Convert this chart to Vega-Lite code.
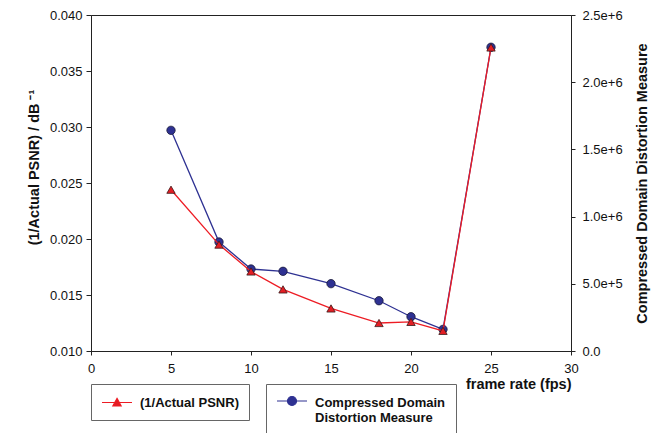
{
  "$schema": "https://vega.github.io/schema/vega-lite/v6.json",
  "width": 480,
  "height": 336,
  "autosize": {"type": "none"},
  "padding": {"left": 91, "top": 15, "right": 91, "bottom": 82},
  "background": "white",
  "config": {
    "font": "Liberation Sans",
    "view": {"stroke": "#222", "strokeWidth": 1},
    "axis": {
      "grid": false,
      "domainColor": "#222",
      "tickColor": "#222",
      "labelColor": "#111",
      "labelFontSize": 13,
      "labelFont": "Liberation Sans",
      "titleFont": "Liberation Sans",
      "titleFontSize": 14.5,
      "titleFontWeight": "bold",
      "titleColor": "#111"
    },
    "legend": {
      "labelFont": "Liberation Sans",
      "labelFontSize": 13,
      "labelFontWeight": "bold",
      "labelColor": "#111",
      "labelLimit": 400,
      "strokeColor": "#666",
      "fillColor": "white",
      "padding": 10,
      "symbolSize": 225,
      "symbolStrokeWidth": 1.2,
      "labelOffset": 22
    }
  },
  "data": {
    "values": [
      {"fps": 5, "psnr": 0.0244, "cddm": 1642000},
      {"fps": 8, "psnr": 0.0195, "cddm": 811000},
      {"fps": 10, "psnr": 0.0171, "cddm": 610000},
      {"fps": 12, "psnr": 0.0155, "cddm": 593000},
      {"fps": 15, "psnr": 0.0138, "cddm": 501000},
      {"fps": 18, "psnr": 0.0125, "cddm": 374000},
      {"fps": 20, "psnr": 0.0126, "cddm": 255000},
      {"fps": 22, "psnr": 0.0118, "cddm": 161000},
      {"fps": 25, "psnr": 0.0371, "cddm": 2260000}
    ]
  },
  "layer": [
    {
      "encoding": {
        "x": {
          "field": "fps", "type": "quantitative",
          "scale": {"domain": [0, 30], "nice": false},
          "axis": {"values": [0, 5, 10, 15, 20, 25, 30], "tickSize": 4, "labelPadding": 7, "labelFlush": false, "labelOverlap": false, "title": "frame rate (fps)", "titleAnchor": "end", "titlePadding": 2}
        },
        "y": {
          "field": "cddm", "type": "quantitative",
          "scale": {"domain": [0, 2500000], "nice": false},
          "axis": {"orient": "right", "values": [0, 500000, 1000000, 1500000, 2000000, 2500000], "labelExpr": "datum.value == 0 ? '0.0' : format(datum.value, '.1e')", "tickSize": 4, "labelPadding": 7, "title": "Compressed Domain Distortion Measure", "titleAngle": 270, "titleBaseline": "top", "titlePadding": 13}
        }
      },
      "layer": [
        {
          "mark": {"type": "line", "strokeWidth": 1.3},
          "encoding": {
            "color": {
              "datum": "Compressed Domain|Distortion Measure",
              "scale": {"range": ["#2e3192"]},
              "legend": {
                "title": null, "orient": "none", "legendX": 175, "legendY": 369,
                "labelExpr": "split(datum.label, '|')",
                "symbolType": "M-1,-0.2H0.4M1.6,-0.2H3M0.4,-0.2A0.6,0.6,0,1,1,1.6,-0.2A0.6,0.6,0,1,1,0.4,-0.2Z",
                "encode": {"symbols": {"update": {"fill": {"value": "#2e3192"}, "stroke": {"value": "#2e3192"}}}}
              }
            }
          }
        },
        {
          "mark": {"type": "point", "shape": "circle", "filled": true, "size": 70, "fill": "#2e3192", "stroke": "#1a1a3a", "strokeWidth": 0.8, "opacity": 1}
        }
      ]
    },
    {
      "encoding": {
        "x": {
          "field": "fps", "type": "quantitative",
          "scale": {"domain": [0, 30], "nice": false},
          "axis": {"values": [0, 5, 10, 15, 20, 25, 30], "tickSize": 4, "labelPadding": 7, "labelFlush": false, "labelOverlap": false, "title": "frame rate (fps)", "titleAnchor": "end", "titlePadding": 2}
        },
        "y": {
          "field": "psnr", "type": "quantitative",
          "scale": {"domain": [0.01, 0.04], "nice": false, "zero": false},
          "axis": {"orient": "left", "values": [0.01, 0.015, 0.02, 0.025, 0.03, 0.035, 0.04], "format": ".3f", "tickSize": 5, "labelPadding": 4, "title": "(1/Actual PSNR) / dB   ⁻¹", "titlePadding": 8, "titleY": 152}
        }
      },
      "layer": [
        {
          "mark": {"type": "line", "strokeWidth": 1.3},
          "encoding": {
            "color": {
              "datum": "(1/Actual PSNR)",
              "scale": {"range": ["#ed1c24"]},
              "legend": {
                "title": null, "orient": "none", "legendX": 0, "legendY": 369,
                "symbolType": "M-1,0H0.72M1.28,0H3M1,-0.55L1.55,0.45L0.45,0.45Z",
                "encode": {"symbols": {"update": {"fill": {"value": "#e31e24"}, "stroke": {"value": "#ed1c24"}}}}
              }
            }
          }
        },
        {
          "mark": {"type": "point", "shape": "triangle-up", "filled": true, "size": 70, "fill": "#e31e24", "stroke": "#3a1a1a", "strokeWidth": 0.8, "opacity": 1}
        }
      ]
    }
  ],
  "resolve": {"scale": {"y": "independent", "color": "independent"}}
}
